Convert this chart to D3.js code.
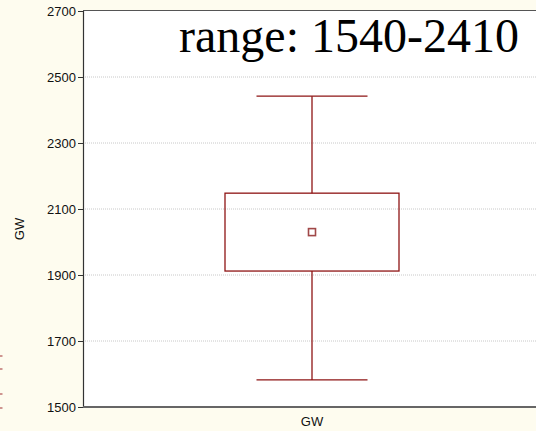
<!DOCTYPE html>
<html>
<head>
<meta charset="utf-8">
<script src="https://cdn.jsdelivr.net/npm/d3@7"></script>
<style>
  html, body { margin: 0; padding: 0; background: #fefcef; }
  svg { display: block; }
</style>
</head>
<body>
<svg id="chart" width="536" height="431"></svg>
<script>
// Box-plot summary for the GW variable
const categories = ["GW"];
const whiskerLow = [1582];
const boxLow = [1912];
const meanValue = [2030];
const boxHigh = [2148];
const whiskerHigh = [2442];
const yTicks = [1500, 1700, 1900, 2100, 2300, 2500, 2700];
const titleText = "range: 1540-2410";

const W = 536, H = 431;
const margin = { left: 83, top: 11, bottomY: 407, rightX: 541 };
const red = "#8e1414";

const svg = d3.select("#chart");

const x = d3.scaleBand().domain(categories).range([margin.left, margin.rightX]).paddingInner(0).paddingOuter(0);
const y = d3.scaleLinear().domain([1500, 2700]).range([margin.bottomY, margin.top]);

// plot panel
svg.append("rect")
  .attr("x", margin.left).attr("y", margin.top)
  .attr("width", margin.rightX - margin.left)
  .attr("height", margin.bottomY - margin.top)
  .attr("fill", "#ffffff");

// dotted horizontal grid
svg.append("g").selectAll("line")
  .data(yTicks.filter(t => t !== 1500 && t !== 2700))
  .join("line")
  .attr("x1", margin.left).attr("x2", margin.rightX)
  .attr("y1", d => y(d)).attr("y2", d => y(d))
  .attr("stroke", "#c8c8c8").attr("stroke-width", 1)
  .attr("stroke-dasharray", "1,1");

// y axis
const yAxis = d3.axisLeft(y).tickValues(yTicks).tickSize(5).tickPadding(2).tickFormat(d3.format("d"));
const gy = svg.append("g").attr("transform", `translate(${margin.left},0)`).call(yAxis);
gy.select(".domain").attr("stroke", "#333").attr("stroke-width", 1.2);
gy.selectAll(".tick line").attr("stroke", "#333");
gy.selectAll(".tick text").attr("font-family", "Liberation Sans, Arial, sans-serif")
  .attr("font-size", 13).attr("fill", "#111");

// top border
svg.append("line")
  .attr("x1", margin.left).attr("x2", margin.rightX)
  .attr("y1", margin.top - 0.5).attr("y2", margin.top - 0.5)
  .attr("stroke", "#555").attr("stroke-width", 1.2);

// bottom border / x axis
svg.append("line")
  .attr("x1", margin.left).attr("x2", margin.rightX)
  .attr("y1", margin.bottomY).attr("y2", margin.bottomY)
  .attr("stroke", "#666").attr("stroke-width", 2);

// x category label
svg.append("g").selectAll("text").data(categories).join("text")
  .attr("x", d => x(d) + x.bandwidth() / 2)
  .attr("y", 426)
  .attr("text-anchor", "middle")
  .attr("font-family", "Liberation Sans, Arial, sans-serif")
  .attr("font-size", 13).attr("fill", "#111")
  .text(d => d);

// y axis title
svg.append("text")
  .attr("transform", "translate(24,229) rotate(-90)")
  .attr("text-anchor", "middle")
  .attr("font-family", "Liberation Sans, Arial, sans-serif")
  .attr("font-size", 13).attr("fill", "#111")
  .text("GW");

// boxes
const boxW = 174, capW = 111;
const g = svg.append("g");
categories.forEach((c, i) => {
  const cx = x(c) + x.bandwidth() / 2;
  // whisker stems
  g.append("line").attr("x1", cx).attr("x2", cx)
    .attr("y1", y(whiskerHigh[i])).attr("y2", y(boxHigh[i]))
    .attr("stroke", red).attr("stroke-width", 1.3);
  g.append("line").attr("x1", cx).attr("x2", cx)
    .attr("y1", y(boxLow[i])).attr("y2", y(whiskerLow[i]))
    .attr("stroke", red).attr("stroke-width", 1.3);
  // caps
  [whiskerHigh[i], whiskerLow[i]].forEach(v => {
    g.append("line").attr("x1", cx - capW / 2).attr("x2", cx + capW / 2)
      .attr("y1", y(v)).attr("y2", y(v))
      .attr("stroke", red).attr("stroke-width", 1.3);
  });
  // box
  g.append("rect")
    .attr("x", cx - boxW / 2).attr("y", y(boxHigh[i]))
    .attr("width", boxW).attr("height", y(boxLow[i]) - y(boxHigh[i]))
    .attr("fill", "none").attr("stroke", red).attr("stroke-width", 1.3);
  // mean marker
  g.append("rect")
    .attr("x", cx - 3.5).attr("y", y(meanValue[i]) - 3.5)
    .attr("width", 7).attr("height", 7)
    .attr("fill", "none").attr("stroke", "#a04848").attr("stroke-width", 1.6);
});

// legend remnants on the left edge
svg.append("g").selectAll("line").data([356, 369, 394, 408]).join("line")
  .attr("x1", 0).attr("x2", 2.5)
  .attr("y1", d => d).attr("y2", d => d)
  .attr("stroke", "#b05050").attr("stroke-width", 1.2);

// range note
svg.append("text")
  .attr("x", 349).attr("y", 52)
  .attr("text-anchor", "middle")
  .attr("font-family", "Liberation Serif, Times New Roman, serif")
  .attr("font-size", 48).attr("fill", "#000")
  .text(titleText);
</script>
</body>
</html>
